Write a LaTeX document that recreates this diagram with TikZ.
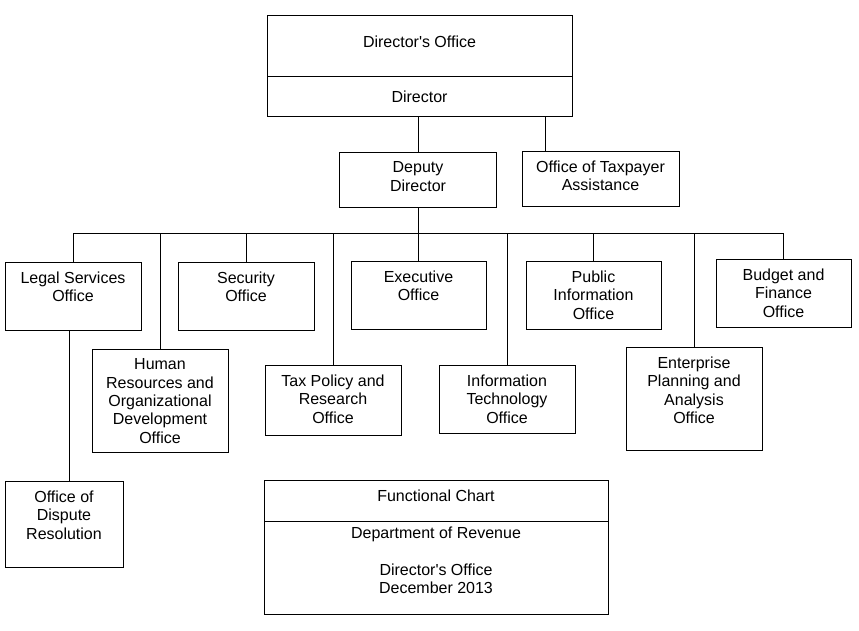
\documentclass[tikz,border=0pt]{standalone}
\usepackage{fontspec}
\setmainfont{Liberation Sans}
\usetikzlibrary{positioning,calc}
\tikzset{
  unit/.style={
    draw, line width=1pt, outer sep=0pt, inner sep=0pt,
    minimum width=136pt, minimum height=68pt
  },
  txt/.style={
    anchor=north, inner sep=0pt, align=center, yshift=-9.5pt,
    font=\fontsize{16}{18.4}\selectfont
  },
  boxlabel/.style={label={[txt]north:{#1}}},
  lowlabel/.style 2 args={label={[txt,yshift=#1]north:{#2}}},
  orgline/.style={line width=1pt, black, line cap=rect}
}

\begin{document}
\begin{tikzpicture}[x=1pt, y=-1pt]
  \useasboundingbox (0,0) rectangle (859,630);

  % top of the chart
  \node[unit, minimum width=305pt, minimum height=61pt,
        lowlabel={-11pt}{Director\textquotesingle s Office}] (dirhead) at (419.5,45.5) {};
  \node[unit, minimum width=305pt, minimum height=40pt, below=0pt of dirhead,
        lowlabel={-5pt}{Director}] (director) {};
  \node[unit, minimum width=157pt, minimum height=55pt,
        boxlabel={Deputy\\Director}] (deputy) at (418,179.5) {};
  \node[unit, minimum width=157pt, minimum height=55pt,
        boxlabel={Office of Taxpayer\\Assistance}] (taxpayer) at (600.5,178.5) {};

  % offices, upper row
  \node[unit, boxlabel={Legal Services\\Office}] (legal) at (73,296) {};
  \node[unit, boxlabel={Security\\Office}] (security) at (246,296) {};
  \node[unit, minimum width=135pt, boxlabel={Executive\\Office}] (exec) at (418.5,295) {};
  \node[unit, minimum width=135pt, boxlabel={Public\\Information\\Office}] (pubinfo) at (593.5,295) {};
  \node[unit, minimum width=135pt, boxlabel={Budget and\\Finance\\Office}] (budget) at (783.5,293) {};

  % offices, lower row
  \node[unit, minimum height=103pt,
        boxlabel={Human\\Resources and\\Organizational\\Development\\Office}] (hr) at (160,400.5) {};
  \node[unit, minimum height=70pt, boxlabel={Tax Policy and\\Research\\Office}] (tax) at (333,400) {};
  \node[unit, boxlabel={Information\\Technology\\Office}] (it) at (507,399) {};
  \node[unit, minimum height=103pt,
        boxlabel={Enterprise\\Planning and\\Analysis\\Office}] (enterprise) at (694,398.5) {};
  \node[unit, minimum width=118pt, minimum height=86pt,
        boxlabel={Office of\\Dispute\\Resolution}] (dispute) at (64,524) {};

  % title block
  \node[unit, minimum width=344pt, minimum height=41pt,
        boxlabel={Functional Chart}] (chead) at (436,501) {};
  \node[unit, minimum width=344pt, minimum height=93pt, below=0pt of chead,
        lowlabel={4pt}{Department of Revenue\\[18.4pt]Director\textquotesingle s Office\\December 2013}] (cbody) {};

  % connectors
  \coordinate (busY) at (0,233);
  \draw[orgline] (legal.north |- busY) -- (budget.north |- busY);
  \draw[orgline] (deputy.north) -- (deputy.north |- director.south);
  \draw[orgline] ([xshift=125.5pt]director.south) -- ([xshift=125.5pt]director.south |- taxpayer.north);
  \draw[orgline] (deputy.south) -- (deputy.south |- busY);
  \foreach \n in {legal,hr,security,tax,exec,it,pubinfo,enterprise,budget}
    \draw[orgline] (\n.north) -- (\n.north |- busY);
  \draw[orgline] ([xshift=-4pt]legal.south) -- ([xshift=-4pt]legal.south |- dispute.north);
\end{tikzpicture}
\end{document}
